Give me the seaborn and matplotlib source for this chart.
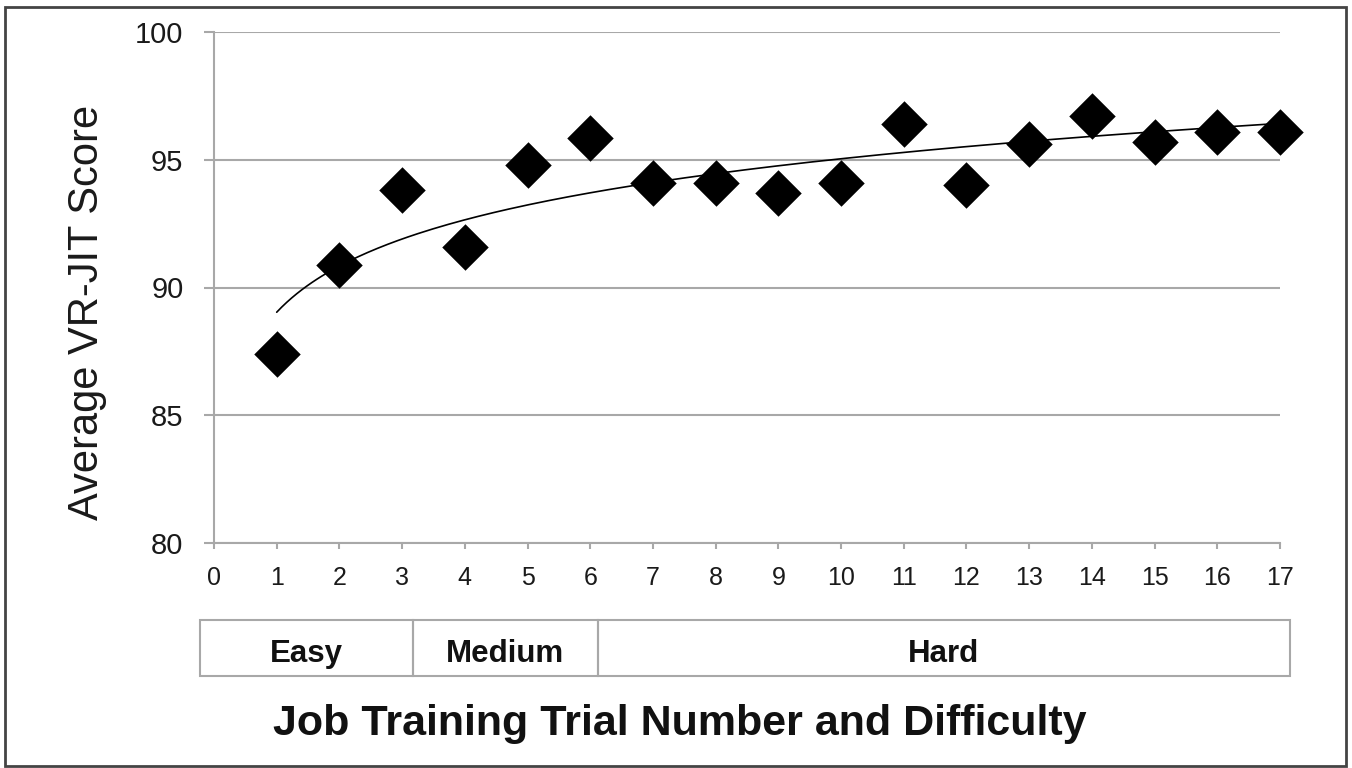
## VR-JIT scores across job training trials
import numpy as np
import pandas as pd
import matplotlib
matplotlib.use("Agg")
import matplotlib.pyplot as plt
from matplotlib.patches import Rectangle
import seaborn as sns

## Data
trial = [1, 2, 3, 4, 5, 6, 7, 8, 9, 10, 11, 12, 13, 14, 15, 16, 17]
score = [87.4, 90.9, 93.8, 91.6, 94.8, 95.85, 94.1, 94.1, 93.7, 94.1,
         96.4, 94.0, 95.6, 96.7, 95.7, 96.1, 96.1]
x_ticks = list(range(0, 18))
y_ticks = [80, 85, 90, 95, 100]
levels = ["Easy", "Medium", "Hard"]

df = pd.DataFrame({"trial": trial, "score": score})

## Style
sns.set_style("white")
plt.rcParams['font.family'] = ['Liberation Sans', 'DejaVu Sans']
grey = "#a8a8a8"

fig = plt.figure(figsize=(13.52, 7.68), dpi=100)
W, H = 1352, 768
ax = fig.add_axes([214 / W, 1 - 543 / H, 1066 / W, 511 / H])

## Log trendline fitted to the points
b, a = np.polyfit(np.log(df["trial"]), df["score"], 1)
xs = np.linspace(1, 17, 200)
ax.plot(xs, a + b * np.log(xs), color="black", lw=1.2, zorder=2)

sns.scatterplot(x="trial", y="score", data=df, marker="D", s=560,
                color="black", edgecolor="black", linewidth=0, ax=ax,
                zorder=3, clip_on=False)

ax.set_xlim(0, 17)
ax.set_ylim(80, 100)
ax.set_xticks(x_ticks)
ax.set_yticks(y_ticks)
ax.set_xlabel("")
ax.set_ylabel("")
ax.grid(axis="y", color=grey, lw=1.5, zorder=0)
ax.grid(axis="x", visible=False)
for s in ["top", "right"]:
    ax.spines[s].set_visible(False)
for s in ["left", "bottom"]:
    ax.spines[s].set_color(grey)
    ax.spines[s].set_linewidth(1.5)
ax.tick_params(axis="y", length=7, width=1.5, color=grey, pad=15,
               labelsize=21, labelcolor="#1a1a1a", left=True)
ax.tick_params(axis="x", length=4.5, width=1.5, color=grey, pad=12,
               labelsize=18, labelcolor="#1a1a1a", bottom=True)

fig.text(87 / W, 1 - 312 / H, "Average VR-JIT Score", rotation=90,
         ha="center", va="center", fontsize=30, color="#1a1a1a")

## Difficulty boxes under the axis
edges = [200, 412.7, 598, 1290]
for i, lab in enumerate(levels):
    x0, x1 = edges[i], edges[i + 1]
    fig.patches.append(Rectangle((x0 / W, 1 - 676 / H), (x1 - x0) / W, 56 / H,
                                 transform=fig.transFigure, fill=False,
                                 edgecolor=grey, lw=1.5))
    fig.text((x0 + x1) / 2 / W, 1 - 662 / H, lab, ha="center", va="baseline",
             fontsize=22.5, fontweight="bold", color="#111111")

fig.text(680 / W, 1 - 735 / H, "Job Training Trial Number and Difficulty",
         ha="center", va="baseline", fontsize=31, fontweight="bold",
         color="#111111")

## Outer frame
fig.patches.append(Rectangle((5 / W, 1 - 766 / H), 1341 / W, 759 / H,
                             transform=fig.transFigure, fill=False,
                             edgecolor="#444444", lw=2))

fig.savefig("out.png", dpi=100)
